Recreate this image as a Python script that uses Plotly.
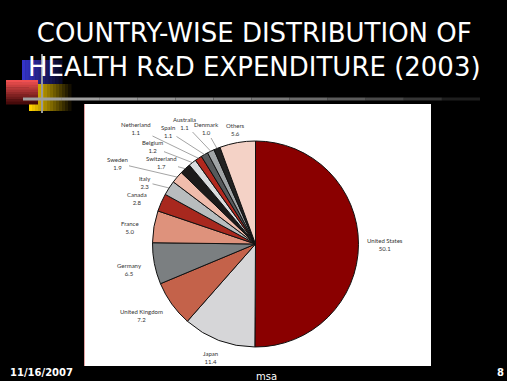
import math
import plotly.graph_objects as go

countries = ["United States", "Japan", "United Kingdom", "Germany", "France", "Canada",
             "Italy", "Sweden", "Switzerland", "Belgium", "Netherland", "Spain",
             "Australia", "Denmark", "Others"]
shares = [50.1, 11.4, 7.2, 6.5, 5.0, 2.8, 2.3, 1.9, 1.7, 1.2, 1.1, 1.1, 1.1, 1.0, 5.6]
colors = ["#8a0000", "#d6d6d8", "#c4624a", "#7b7f81", "#de927c", "#a8281e",
          "#b8bcbe", "#f0bcac", "#1c1a1a", "#dadcde", "#b2281e", "#575a5c",
          "#a0a4a6", "#222222", "#f4d2c6"]

W, H = 507, 381

def px(x):
    return x / W

def py(y):
    return 1 - y / H

# pie geometry (page pixels)
CX, CY, R = 255.5, 244.0, 103.0

# label placement (page pixels, layout only) and whether a leader line is drawn
label_pos = {
    "United States": (385, 244, False), "Japan": (210, 357, False),
    "United Kingdom": (141, 315, False), "Germany": (129, 269, False),
    "France": (130, 227, False), "Canada": (137, 198, False),
    "Italy": (145, 182, True), "Sweden": (117, 163, True),
    "Switzerland": (161, 162, True), "Belgium": (152, 147, True),
    "Netherland": (136, 128, True), "Spain": (168, 131, True),
    "Australia": (184, 123, True), "Denmark": (206, 129, True),
    "Others": (235, 129, False),
}

fig = go.Figure()
fig.add_trace(go.Pie(
    labels=countries, values=shares, sort=False, direction="clockwise", rotation=0,
    marker=dict(colors=colors, line=dict(color="#111111", width=1)),
    textinfo="none", showlegend=False, hoverinfo="label+value",
    domain=dict(x=[px(CX - R), px(CX + R)], y=[py(CY + R), py(CY - R)]),
))

shapes = []
# white chart panel
shapes.append(dict(type="rect", xref="paper", yref="paper", x0=px(84), x1=px(431), y0=py(366), y1=py(104),
                   fillcolor="white", line=dict(width=0), layer="below"))
shapes.append(dict(type="line", xref="paper", yref="paper", x0=px(84.5), x1=px(84.5), y0=py(366), y1=py(104),
                   line=dict(color="#e0a0a0", width=1), layer="below"))

def gradient_rect(x0, x1, y0, y1, c_from, c_to, n=10, vertical=False):
    out = []
    for i in range(n):
        t = i / (n - 1)
        c = tuple(int(round(a + (b - a) * t)) for a, b in zip(c_from, c_to))
        col = "rgb(%d,%d,%d)" % c
        if vertical:
            ya = y0 + (y1 - y0) * i / n
            yb = y0 + (y1 - y0) * (i + 1) / n + 0.5
            out.append(dict(type="rect", xref="paper", yref="paper", x0=px(x0), x1=px(x1),
                            y0=py(yb), y1=py(ya), fillcolor=col, line=dict(width=0)))
        else:
            xa = x0 + (x1 - x0) * i / n
            xb = x0 + (x1 - x0) * (i + 1) / n + 0.5
            out.append(dict(type="rect", xref="paper", yref="paper", x0=px(xa), x1=px(xb),
                            y0=py(y1), y1=py(y0), fillcolor=col, line=dict(width=0)))
    return out

# decorative squares
shapes += gradient_rect(22, 62, 60, 86, (52, 52, 200), (10, 10, 40), n=12)
shapes += gradient_rect(29, 71, 84, 111, (255, 210, 0), (20, 15, 0), n=14)
shapes += gradient_rect(6, 38, 80, 104, (240, 80, 80), (70, 10, 10), n=10, vertical=True)
# gray lines
shapes += [dict(type="line", xref="paper", yref="paper", x0=px(42), x1=px(42), y0=py(54), y1=py(113),
                line=dict(color="#9a9a9a", width=2))]
for i in range(12):
    xa = 23 + (480 - 23) * i / 12
    xb = 23 + (480 - 23) * (i + 1) / 12
    g = int(round(160 - 130 * (i / 11) ** 2))
    shapes.append(dict(type="line", xref="paper", yref="paper", x0=px(xa), x1=px(xb), y0=py(99), y1=py(99),
                       line=dict(color="rgb(%d,%d,%d)" % (g, g, g), width=3)))

annotations = []
total = sum(shares)
cum = 0.0
for name, v in zip(countries, shares):
    mid = (cum + v / 2) / total
    cum += v
    ang = 2 * math.pi * mid
    rx = CX + R * math.sin(ang)
    ry = CY - R * math.cos(ang)
    lx, ly, leader = label_pos[name]
    txt = "%s<br>%.1f" % (name, v)
    fnt = dict(family="Lato, DejaVu Sans, sans-serif", size=6, color="#333333")
    if leader:
        annotations.append(dict(text=txt, x=px(rx), y=py(ry), xref="paper", yref="paper",
                                ax=lx - rx, ay=ly - ry, showarrow=True, arrowhead=0,
                                arrowwidth=0.6, arrowcolor="#666666", standoff=0,
                                font=fnt, align="center"))
    else:
        annotations.append(dict(text=txt, x=px(lx), y=py(ly), xref="paper", yref="paper",
                                showarrow=False, font=fnt, align="center",
                                xanchor="center", yanchor="middle"))

annotations += [
    dict(text="COUNTRY-WISE DISTRIBUTION OF<br>HEALTH R&D EXPENDITURE (2003)", x=px(254), y=py(16),
         xref="paper", yref="paper", xanchor="center", yanchor="top", showarrow=False, align="center",
         font=dict(family="DejaVu Sans", size=26, color="white")),
    dict(text="<b>11/16/2007</b>", x=px(8), y=py(372), xref="paper", yref="paper", xanchor="left",
         yanchor="middle", showarrow=False, font=dict(family="DejaVu Sans", size=10, color="white")),
    dict(text="msa", x=px(266), y=py(376), xref="paper", yref="paper", xanchor="center",
         yanchor="middle", showarrow=False, font=dict(family="DejaVu Sans", size=10, color="white")),
    dict(text="<b>8</b>", x=px(506), y=py(372), xref="paper", yref="paper", xanchor="right",
         yanchor="middle", showarrow=False, font=dict(family="DejaVu Sans", size=10, color="white")),
]

fig.update_layout(width=W, height=H, margin=dict(l=0, r=0, t=0, b=0),
                  paper_bgcolor="black", plot_bgcolor="black",
                  shapes=shapes, annotations=annotations)
fig.write_html("out.html", config={"displayModeBar": False},
               post_script="document.body.style.margin='0';document.body.style.background='black';"
                           "document.body.style.overflow='hidden';")
